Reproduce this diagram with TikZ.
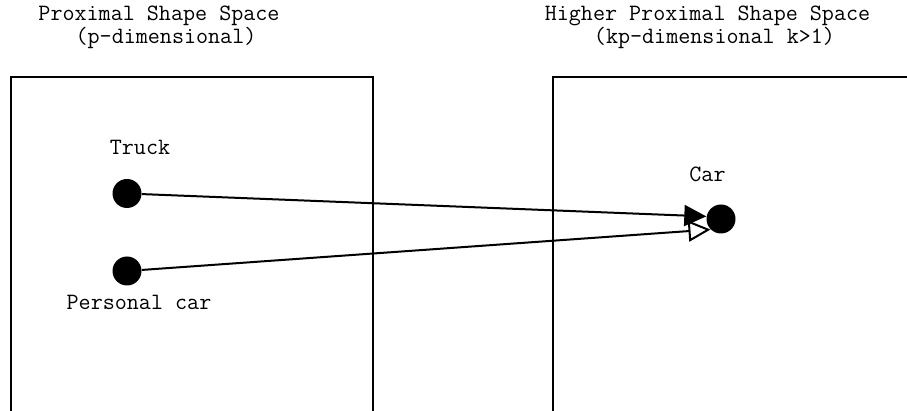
\documentclass[tikz,border=0pt]{standalone}
\usepackage{fontspec}
\usepackage{tikz}
\usetikzlibrary{arrows.meta}

\begin{document}
\begin{tikzpicture}[
            x=0.5pt, y=-0.5pt,
            txt/.style={font=\ttfamily\fontsize{11.7pt}{14pt}\selectfont,anchor=base,inner sep=0pt},
            title/.style={font=\ttfamily\fontsize{11.7pt}{8.6pt}\selectfont,align=center,anchor=base,inner sep=0pt},
            dot/.style={circle,fill=black,inner sep=0pt,minimum size=14.5pt},
            spacebox/.style={line width=1pt},
            mapTo/.style={line width=1pt,-{Triangle[length=11pt,width=10.5pt]}},
            mapToOpen/.style={line width=1pt,-{Triangle[open,length=11pt,width=10.5pt]}},
        ]
            \useasboundingbox (0,0) rectangle (907,411);

            %--- Titles ---%
            \node[title] (ptitle) at (159,44) {Proximal Shape Space\\\hspace*{7pt}(p-dimensional)};
            \node[title] (htitle) at (707.5,44) {Higher Proximal Shape Space\\\hspace*{7pt}(kp-dimensional k>1)};

            %--- Spaces (open at the bottom) ---%
            \draw[spacebox] (10.5,412) -- (10.5,77.5) -- (372.5,77.5) -- (372.5,412);
            \draw[spacebox] (553,412) -- (553,77.5) -- (908,77.5);

            %--- Shapes ---%
            \node[dot] (truck) at (127,193.5) {};
            \node[dot] (pcar)  at (127,271) {};
            \node[dot] (car)   at (721,219) {};
            \node[txt] (trucklbl) at (140,155) {Truck};
            \node[txt] (pcarlbl)  at (139,309.5) {Personal car};
            \node[txt] (carlbl)   at (707.5,182) {Car};

            %--- Maps into the higher space ---%
            \draw[mapTo] (truck) -- (car.170);
            \draw[mapToOpen] (pcar) -- (car.225);

        \end{tikzpicture}
\end{document}
